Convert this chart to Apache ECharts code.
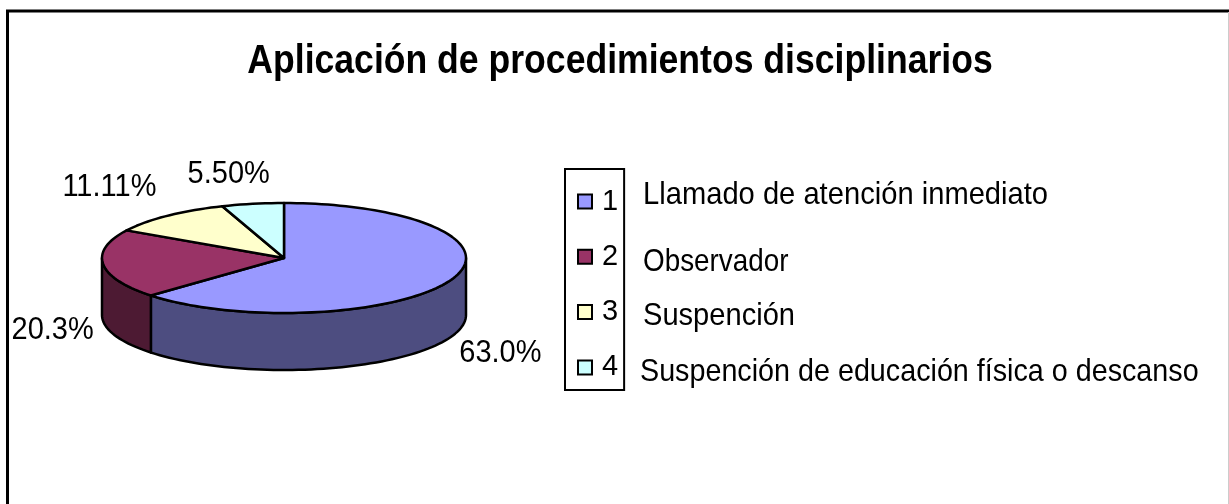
<!DOCTYPE html>
<html>
<head>
<meta charset="utf-8">
<style>html,body{margin:0;padding:0;background:#fff}#c{width:1229px;height:504px}</style>
<script src="https://cdn.jsdelivr.net/npm/echarts@6/dist/echarts.min.js"></script>
</head>
<body>
<div id="c"></div>
<script>
const titleText = 'Aplicación de procedimientos disciplinarios';
const categories = ['1', '2', '3', '4'];
const descriptions = ['Llamado de atención inmediato', 'Observador', 'Suspención', 'Suspención de educación física o descanso'];
const values = [63.0, 20.3, 11.11, 5.5];
const valueLabels = ['63.0%', '20.3%', '11.11%', '5.50%'];
const topColors = ['#9999FF', '#993366', '#FFFFCC', '#CCFFFF'];
const sideColors = ['#4D4D80', '#4D1A33', '#808066', '#668080'];

// Layout of the tilted pie
const CX = 284, CY = 258, RX = 182, RY = 55, DEPTH = 57;
const labelOffsets = [[49.5, 16], [-50.5, 9], [-58, -29], [-24, -30]];
const descX = [643, 643, 643, 640];
const descY = [195, 262, 316, 372];
const descScaleX = [1.005, 0.96, 1.003, 0.99];
const FONT = '"Liberation Sans", Arial, sans-serif';

const total = values.reduce((a, b) => a + b, 0);
const starts = values.map((_, i) => values.slice(0, i).reduce((a, b) => a + b, 0) / total * 360);

function rim(deg, dy) {
  const t = deg * Math.PI / 180;
  return [CX + RX * Math.sin(t), CY - RY * Math.cos(t) + (dy || 0)];
}
function arc(a, b, dy) {
  const out = [], n = Math.max(2, Math.ceil(Math.abs(b - a) / 2));
  for (let i = 0; i <= n; i++) out.push(rim(a + (b - a) * i / n, dy));
  return out;
}
function renderSlice(index) {
  return function (params, api) {
    const a = starts[index];
    const b = a + api.value(0) / total * 360;
    const children = [];
    const lo = Math.max(a, 90), hi = Math.min(b, 270);
    if (hi > lo) {
      children.push({
        type: 'polygon',
        shape: { points: arc(lo, hi, 0).concat(arc(hi, lo, DEPTH)) },
        style: { fill: sideColors[index], stroke: '#000', lineWidth: 2.5, lineJoin: 'round' }
      });
    }
    children.push({
      type: 'polygon',
      shape: { points: [[CX, CY]].concat(arc(a, b, 0)) },
      style: { fill: topColors[index], stroke: '#000', lineWidth: 2.5, lineJoin: 'round' }
    });
    const mid = rim((a + b) / 2, index === 0 || index === 1 ? DEPTH : 0);
    children.push({
      type: 'text',
      x: mid[0] + labelOffsets[index][0],
      y: mid[1] + labelOffsets[index][1],
      scaleY: 1.1,
      style: {
        text: valueLabels[index],
        fill: '#000',
        font: '29px ' + FONT,
        align: 'center',
        verticalAlign: 'middle'
      }
    });
    return { type: 'group', children: children };
  };
}

const chart = echarts.init(document.getElementById('c'), null, { renderer: 'canvas' });
chart.setOption({
  animation: false,
  backgroundColor: '#fff',
  legend: {
    orient: 'vertical',
    left: 565, top: 169,
    padding: [18, 6, 8, 12],
    borderColor: '#000', borderWidth: 2,
    icon: 'rect',
    itemWidth: 14, itemHeight: 14, itemGap: 26.3,
    selectedMode: false,
    textStyle: { fontFamily: FONT, fontSize: 29, color: '#000', lineHeight: 28, padding: [0, 0, 0, 5] },
    data: categories.map((name, i) => ({
      name: name,
      itemStyle: { color: topColors[i], borderColor: '#000', borderWidth: 2 }
    }))
  },
  graphic: [
    { type: 'rect', silent: true, z: -1, shape: { x: 7.5, y: 11, width: 1240, height: 510 }, style: { fill: 'none', stroke: '#000', lineWidth: 3 } },
    { type: 'line', silent: true, z: -1, shape: { x1: 1228.5, y1: 12, x2: 1228.5, y2: 504 }, style: { stroke: '#cccccc', lineWidth: 1 } },
    {
      type: 'text', silent: true, x: 620, y: 61.5, scaleY: 1.16,
      style: { text: titleText, fill: '#000', font: 'bold 35.6px ' + FONT, align: 'center', verticalAlign: 'middle' }
    }
  ].concat(descriptions.map((t, i) => ({
    type: 'text', silent: true,
    x: descX[i], y: descY[i], scaleY: 1.08, scaleX: descScaleX[i],
    style: { text: t, fill: '#000', font: '29px ' + FONT, verticalAlign: 'middle' }
  }))),
  series: categories.map((name, i) => ({
    type: 'custom',
    name: name,
    coordinateSystem: 'none',
    renderItem: renderSlice(i),
    itemStyle: { color: topColors[i] },
    data: [[values[i]]]
  }))
});
</script>
</body>
</html>
